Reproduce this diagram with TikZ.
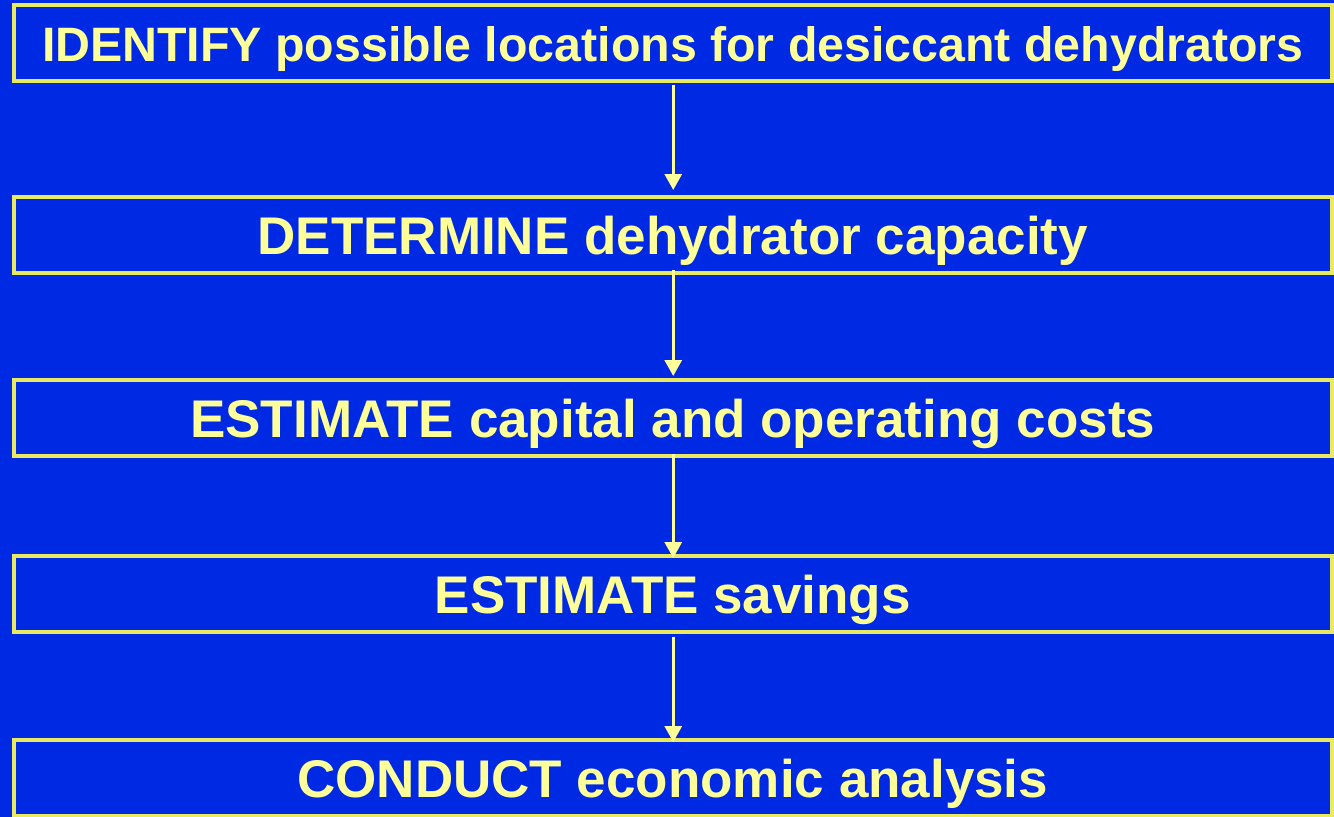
\documentclass[tikz,border=0pt]{standalone}
\usepackage{fontspec}
\setmainfont{Liberation Sans}
\usetikzlibrary{arrows.meta}
\definecolor{slideblue}{RGB}{0,41,228}
\definecolor{textyellow}{RGB}{255,255,153}
\definecolor{frameyellow}{RGB}{234,234,96}
\tikzset{
  stepbox/.style={draw=frameyellow, line width=4pt, inner sep=0pt, outer sep=0pt,
    minimum width=1318.5pt, minimum height=76pt,
    text=textyellow, font=\fontsize{53}{58}\selectfont\bfseries,
    text height=38pt, text depth=0pt},
  longstep/.style={stepbox, font=\fontsize{48.3}{53}\selectfont\bfseries},
  flow/.style={draw=textyellow, line width=3pt,
    -{Triangle[width=17pt,length=16pt]}}
}
\begin{document}
\begin{tikzpicture}[x=1pt,y=1pt]
  \fill[slideblue] (0,0) rectangle (1334,-817);
  \useasboundingbox (0,0) rectangle (1334,-817);

  \node[longstep] (b1) at (672.75,-42.5) {IDENTIFY possible locations for desiccant dehydrators};
  \node[stepbox] (b2) at (672.75,-235)  {DETERMINE dehydrator capacity};
  \node[stepbox] (b3) at (672.75,-418)  {ESTIMATE capital and operating costs};
  \node[stepbox] (b4) at (672.75,-594)  {ESTIMATE savings};
  \node[stepbox] (b5) at (672.75,-778)  {CONDUCT economic analysis};

  \draw[flow] ([xshift=0.5pt,yshift=-4.5pt]b1.south) -- ([xshift=0.5pt,yshift=7pt]b2.north);
  \draw[flow] ([xshift=0.5pt,yshift=3pt]b2.south)   -- ([xshift=0.5pt,yshift=4pt]b3.north);
  \draw[flow] ([xshift=0.5pt,yshift=2pt]b3.south)   -- ([xshift=0.5pt,yshift=-2pt]b4.north);
  \draw[flow] ([xshift=0.5pt,yshift=-5pt]b4.south)  -- ([xshift=0.5pt,yshift=-2pt]b5.north);
\end{tikzpicture}
\end{document}
